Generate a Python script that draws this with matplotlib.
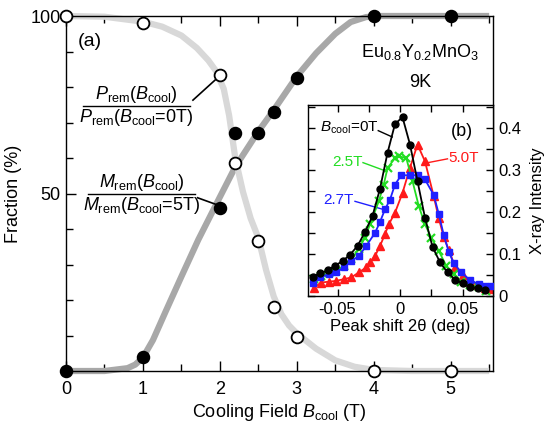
import matplotlib
matplotlib.use("Agg")
import matplotlib.pyplot as plt
from matplotlib.ticker import MultipleLocator, FixedLocator, FuncFormatter

plt.rcParams["font.family"] = ["Liberation Sans", "DejaVu Sans"]
plt.rcParams["mathtext.fontset"] = "custom"
plt.rcParams["mathtext.rm"] = "Liberation Sans"
plt.rcParams["mathtext.it"] = "Liberation Sans:italic"
plt.rcParams["axes.linewidth"] = 1.0

# Remanent fractions vs cooling field (%)
field = [0, 1, 2, 2.2, 2.5, 2.7, 3, 4, 5]
frac_P = [100, 98, 83.5, 58.5, 36.5, 18, 9.5, 0, 0]
frac_M = [0, 4, 46, 67, 67, 73, 82.5, 100, 100]

# guide-to-the-eye curves
guide_P_x = [0, 0.5, 1.0, 1.25, 1.5, 1.7, 1.85, 1.95, 2.05, 2.12, 2.2, 2.3, 2.4,
             2.5, 2.6, 2.7, 2.8, 2.9, 3.0, 3.25, 3.5, 3.75, 4.0, 4.5, 5.5]
guide_P_y = [100, 99.8, 98.4, 97, 94.5, 91, 87.5, 84.5, 79.5, 72, 60, 50.5, 43,
             37.5, 28.5, 21, 16, 12.8, 10.6, 6.3, 3.0, 1.2, 0.3, 0, 0]
guide_M_x = [0, 0.5, 0.8, 0.9, 1.0, 1.13, 1.3, 1.5, 1.72, 2.0, 2.2, 2.5, 2.7,
             3.0, 3.25, 3.5, 3.7, 3.9, 4.1, 4.5, 5.5]
guide_M_y = [0, 0, 0.8, 1.8, 3.8, 8.7, 17, 26.6, 37, 49, 57.5, 67.5, 73.5,
             83, 89.5, 95, 98.3, 99.7, 100, 100, 100]

# X-ray peak profiles (inset)
shift_0T = [-0.070, -0.064, -0.058, -0.052, -0.046, -0.040, -0.034, -0.028,
            -0.022, -0.016, -0.010, -0.004, 0.002, 0.008, 0.014, 0.020,
            0.026, 0.032, 0.038, 0.044, 0.050, 0.056, 0.062, 0.068]
int_0T = [0.046, 0.054, 0.061, 0.072, 0.083, 0.098, 0.119, 0.152,
          0.190, 0.255, 0.340, 0.409, 0.425, 0.360, 0.273, 0.186,
          0.117, 0.080, 0.056, 0.039, 0.030, 0.022, 0.018, 0.015]

shift_25T = [-0.069, -0.063, -0.057, -0.051, -0.045, -0.039, -0.033, -0.028,
             -0.024, -0.017, -0.013, -0.010, -0.004, -0.001, 0.005, 0.010,
             0.015, 0.020, 0.025, 0.031, 0.037, 0.043, 0.049, 0.056, 0.063, 0.069]
int_25T = [0.040, 0.048, 0.054, 0.060, 0.072, 0.087, 0.111, 0.139,
           0.170, 0.225, 0.265, 0.304, 0.328, 0.332, 0.328, 0.273,
           0.214, 0.170, 0.139, 0.107, 0.072, 0.052, 0.034, 0.026, 0.021, 0.013]

shift_27T = [-0.070, -0.064, -0.057, -0.051, -0.045, -0.039, -0.033, -0.027,
             -0.020, -0.016, -0.012, -0.008, -0.004, 0.001, 0.008, 0.014,
             0.020, 0.027, 0.031, 0.035, 0.039, 0.043, 0.049, 0.056, 0.063,
             0.068, 0.073]
int_27T = [0.032, 0.044, 0.052, 0.056, 0.068, 0.083, 0.095, 0.119,
           0.150, 0.176, 0.206, 0.229, 0.265, 0.287, 0.287, 0.287,
           0.277, 0.240, 0.195, 0.145, 0.105, 0.078, 0.056, 0.038, 0.028,
           0.024, 0.023]

shift_50T = [-0.069, -0.063, -0.057, -0.051, -0.045, -0.039, -0.033, -0.027,
             -0.024, -0.020, -0.016, -0.012, -0.009, -0.004, 0.002, 0.008,
             0.014, 0.020, 0.027, 0.031, 0.035, 0.039, 0.044, 0.050, 0.056,
             0.062, 0.068, 0.073]
int_50T = [0.020, 0.032, 0.034, 0.036, 0.040, 0.044, 0.056, 0.068,
           0.080, 0.095, 0.119, 0.147, 0.170, 0.198, 0.245, 0.305,
           0.360, 0.320, 0.237, 0.185, 0.140, 0.110, 0.070, 0.050, 0.034,
           0.026, 0.020, 0.016]

GREEN = "#22dd22"
BLUE = "#1f1fff"
RED = "#ff1a1a"


def plain_zero(v, pos):
    return "0" if abs(v) < 1e-9 else f"{v:g}"


fig = plt.figure(figsize=(5.54, 4.29), dpi=100)
ax = fig.add_axes([66 / 554, 58 / 429, 427 / 554, 355 / 429])

# guide curves (drawn unclipped so they sit on the frame at 0 and 100)
ax.plot(guide_M_x, guide_M_y, color="#a8a8a8", lw=4.5, solid_joinstyle="round",
        solid_capstyle="butt", clip_on=False, zorder=2)
ax.plot(guide_P_x, guide_P_y, color="#d8d8d8", lw=4.5, solid_joinstyle="round",
        solid_capstyle="butt", clip_on=False, zorder=2)

ax.plot(field, frac_M, "o", ms=8.5, mfc="black", mec="black", mew=1.2,
        clip_on=False, zorder=5)
ax.plot(field, frac_P, "o", ms=8.5, mfc="white", mec="black", mew=1.3,
        clip_on=False, zorder=5)

ax.set_xlim(0, 5.55)
ax.set_ylim(0, 100)
ax.xaxis.set_major_locator(MultipleLocator(1))
ax.xaxis.set_minor_locator(MultipleLocator(0.5))
ax.yaxis.set_major_locator(FixedLocator([50, 100]))
ax.yaxis.set_minor_locator(MultipleLocator(10))
ax.tick_params(which="both", direction="in", top=True, right=False,
               labelsize=13, width=1.0)
ax.tick_params(axis="x", which="major", length=7, pad=7)
ax.tick_params(axis="x", which="minor", length=5)
ax.tick_params(axis="y", which="major", length=7, pad=4)
ax.tick_params(axis="y", which="minor", length=5)
ax.set_xlabel(r"Cooling Field $B_{\rm cool}$ (T)", fontsize=13, labelpad=3)
ax.set_ylabel("Fraction (%)", fontsize=13, labelpad=6)

ax.text(0.31, 92.7, "(a)", fontsize=14, ha="center", va="center")
ax.text(4.6, 89.9, r"Eu$_{0.8}$Y$_{0.2}$MnO$_3$", fontsize=13,
        ha="center", va="center")
ax.text(4.6, 81.4, "9K", fontsize=13, ha="center", va="center")

# P_rem fraction label
ax.text(0.91, 77.8, r"$P_{\rm rem}(B_{\rm cool})$", fontsize=13,
        ha="center", va="center")
ax.text(0.91, 71.3, r"$P_{\rm rem}(B_{\rm cool}$=0T)", fontsize=13,
        ha="center", va="center")
ax.plot([0.22, 1.61], [74.6, 74.6], color="black", lw=1.0)
ax.plot([1.65, 1.94], [76.3, 82.0], color="black", lw=1.2)

# M_rem fraction label
ax.text(0.98, 53.2, r"$M_{\rm rem}(B_{\rm cool})$", fontsize=13,
        ha="center", va="center")
ax.text(0.98, 46.6, r"$M_{\rm rem}(B_{\rm cool}$=5T)", fontsize=13,
        ha="center", va="center")
ax.plot([0.29, 1.68], [49.9, 49.9], color="black", lw=1.0)
ax.plot([1.71, 1.94], [48.8, 47.0], color="black", lw=1.2)

# inset: peak profiles
ins = fig.add_axes([308 / 554, 133 / 429, 185 / 554, 191 / 429])
ins.plot(shift_0T, int_0T, "-o", color="black", lw=1.3, ms=5, zorder=4)
ins.plot(shift_25T, int_25T, "-x", color=GREEN, lw=1.3, ms=6, mew=1.6, zorder=3)
ins.plot(shift_27T, int_27T, "-s", color=BLUE, lw=1.3, ms=5, zorder=3)
ins.plot(shift_50T, int_50T, "-^", color=RED, lw=1.3, ms=5.5, zorder=2)

ins.set_xlim(-0.0736, 0.0744)
ins.set_ylim(0, 0.454)
ins.xaxis.set_major_locator(MultipleLocator(0.05))
ins.xaxis.set_minor_locator(MultipleLocator(0.025))
ins.yaxis.set_major_locator(MultipleLocator(0.1))
ins.yaxis.set_minor_locator(MultipleLocator(0.05))
ins.xaxis.set_major_formatter(FuncFormatter(plain_zero))
ins.yaxis.set_major_formatter(FuncFormatter(plain_zero))
ins.tick_params(which="both", direction="in", top=True, left=True, right=True,
                labelleft=False, labelright=True, labelsize=12, width=1.0)
ins.tick_params(which="major", length=5, pad=4)
ins.tick_params(which="minor", length=5)
ins.set_xlabel("Peak shift 2θ (deg)", fontsize=12, labelpad=2)
ins.yaxis.set_label_position("right")
ins.set_ylabel("X-ray Intensity", fontsize=12, labelpad=6)

ins.text(-0.064, 0.400, r"$B_{\rm cool}$=0T", fontsize=11, ha="left", va="center")
ins.plot([-0.0174, -0.0062], [0.393, 0.378], color="black", lw=1.0)
ins.text(-0.0544, 0.319, "2.5T", fontsize=11, color=GREEN, ha="left", va="center")
ins.plot([-0.0296, -0.0104], [0.317, 0.296], color=GREEN, lw=1.0)
ins.text(-0.0616, 0.229, "2.7T", fontsize=11, color=BLUE, ha="left", va="center")
ins.plot([-0.036, -0.0136], [0.225, 0.206], color=BLUE, lw=1.0)
ins.text(0.0384, 0.329, "5.0T", fontsize=11, color=RED, ha="left", va="center")
ins.plot([0.0380, 0.0224], [0.326, 0.317], color=RED, lw=1.0)
ins.text(0.0496, 0.39, "(b)", fontsize=13, ha="center", va="center")

fig.savefig("out.png", dpi=100)
